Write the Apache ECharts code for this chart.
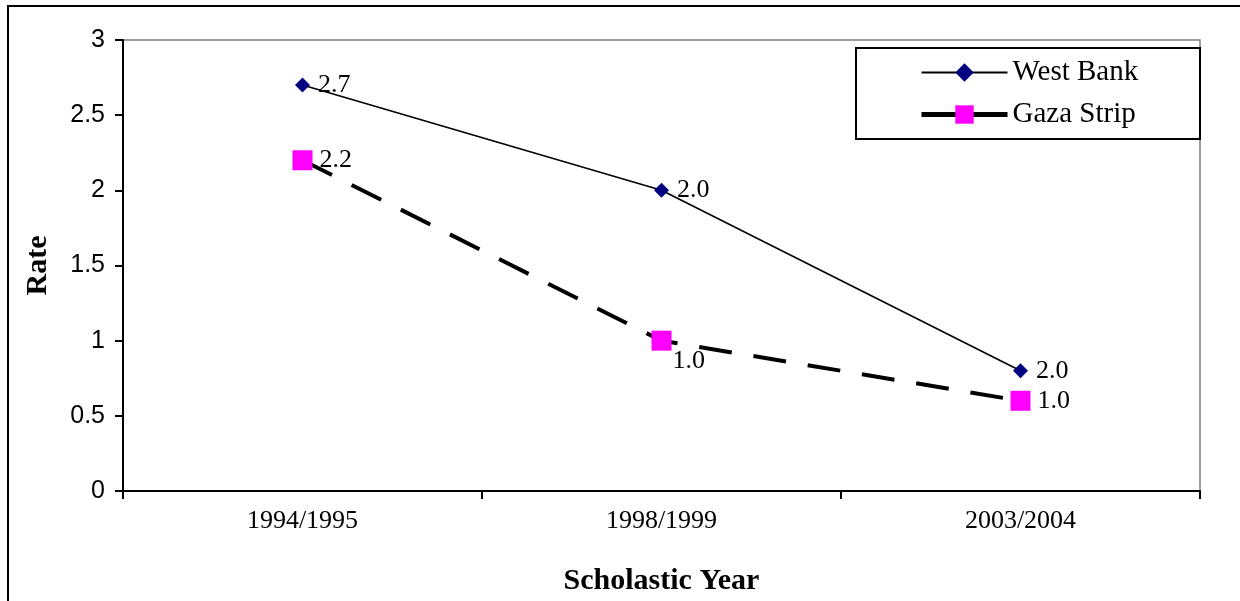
<!DOCTYPE html>
<html>
<head>
<meta charset="utf-8">
<script src="https://cdn.jsdelivr.net/npm/echarts@6/dist/echarts.min.js"></script>
<style>
html,body{margin:0;padding:0;background:#fff;}
#c{width:1240px;height:601px;}
</style>
</head>
<body>
<div id="c"></div>
<script>
var categories = ['1994/1995', '1998/1999', '2003/2004'];
var westBank = [2.7, 2.0, 0.8];
var gazaStrip = [2.2, 1.0, 0.6];
var westBankLabels = ['2.7', '2.0', '2.0'];
var gazaLabels = ['2.2', '1.0', '1.0'];
var yTicks = { min: 0, max: 3, interval: 0.5 };

var serif = '"Liberation Serif", "Times New Roman", serif';
var sans = '"Liberation Sans", Arial, sans-serif';

var chart = echarts.init(document.getElementById('c'), null, { renderer: 'canvas' });

var gazaData = gazaStrip.map(function (v, i) {
  var item = { value: v };
  if (i === 1) {
    item.label = { position: [21, 18], align: 'left', verticalAlign: 'top' };
  }
  return item;
});

chart.setOption({
  animation: false,
  backgroundColor: '#fff',
  graphic: [
    { type: 'rect', shape: { x: 8, y: 6, width: 1400, height: 800 }, style: { fill: 'none', stroke: '#000', lineWidth: 2 }, z: 0 },
    { type: 'rect', shape: { x: 856, y: 48, width: 344, height: 91 }, style: { fill: '#fff', stroke: '#000', lineWidth: 2 }, z: 10 }
  ],
  grid: {
    left: 123, right: 40, top: 40, bottom: 110,
    show: true, borderColor: '#808080', borderWidth: 1.5, backgroundColor: 'transparent'
  },
  legend: {
    left: 919, top: 58, orient: 'vertical', itemWidth: 86, itemHeight: 23, itemGap: 13,
    padding: 0, z: 20,
    textStyle: { fontFamily: serif, fontSize: 29, color: '#000', padding: [0, 0, 0, 0] },
    data: [
      { name: 'West Bank', lineStyle: { width: 2, type: 'solid', color: '#000' } },
      { name: 'Gaza Strip', lineStyle: { width: 5, type: 'solid', color: '#000' } }
    ]
  },
  xAxis: {
    type: 'category',
    data: categories,
    boundaryGap: true,
    name: 'Scholastic Year',
    nameLocation: 'middle',
    nameGap: 75,
    nameTextStyle: { fontFamily: serif, fontWeight: 'bold', fontSize: 30, color: '#000' },
    axisLine: { lineStyle: { color: '#000', width: 2 } },
    axisTick: { show: true, length: 8, lineStyle: { color: '#000', width: 2 } },
    axisLabel: { fontFamily: serif, fontSize: 26, color: '#000', margin: 17 },
    splitLine: { show: false }
  },
  yAxis: {
    type: 'value',
    min: yTicks.min, max: yTicks.max, interval: yTicks.interval,
    name: 'Rate',
    nameLocation: 'middle',
    nameGap: 70,
    nameRotate: 90,
    nameTextStyle: { fontFamily: serif, fontWeight: 'bold', fontSize: 30, color: '#000' },
    axisLine: { show: true, lineStyle: { color: '#000', width: 2 } },
    axisTick: { show: true, length: 8, lineStyle: { color: '#000', width: 2 } },
    axisLabel: { fontFamily: sans, fontSize: 25, color: '#000', margin: 18 },
    splitLine: { show: false }
  },
  series: [
    {
      name: 'West Bank',
      type: 'line',
      data: westBank,
      symbol: 'diamond',
      symbolSize: 15,
      itemStyle: { color: '#000080' },
      lineStyle: { color: '#000', width: 1.6 },
      z: 3,
      label: {
        show: true, position: 'right', distance: 8,
        fontFamily: serif, fontSize: 26, color: '#000',
        formatter: function (p) { return westBankLabels[p.dataIndex]; }
      }
    },
    {
      name: 'Gaza Strip',
      type: 'line',
      data: gazaData,
      symbol: 'rect',
      symbolSize: 20,
      itemStyle: { color: '#FF00FF' },
      lineStyle: { color: '#000', width: 4, type: [33, 22] },
      z: 2,
      label: {
        show: true, position: 'right', distance: 7,
        fontFamily: serif, fontSize: 26, color: '#000',
        formatter: function (p) { return gazaLabels[p.dataIndex]; }
      }
    }
  ]
});
</script>
</body>
</html>
